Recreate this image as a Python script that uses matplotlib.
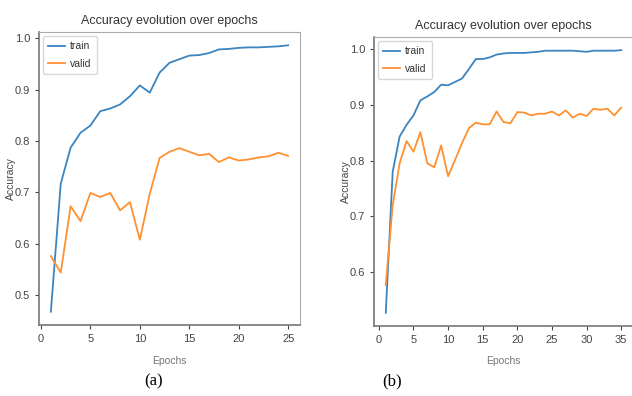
import matplotlib
matplotlib.use("Agg")
import matplotlib.pyplot as plt

# --- data ---
epochs_a = list(range(1, 26))
train_a = [0.468, 0.717, 0.787, 0.816, 0.830, 0.858, 0.863, 0.871, 0.887, 0.908,
           0.894, 0.933, 0.952, 0.959, 0.966, 0.967, 0.971, 0.978, 0.979, 0.981,
           0.982, 0.982, 0.983, 0.984, 0.986]
valid_a = [0.576, 0.544, 0.673, 0.644, 0.699, 0.691, 0.699, 0.665, 0.681, 0.608,
           0.697, 0.767, 0.779, 0.786, 0.779, 0.772, 0.775, 0.759, 0.768, 0.762,
           0.764, 0.768, 0.770, 0.777, 0.771]

epochs_b = list(range(1, 36))
train_b = [0.527, 0.780, 0.843, 0.864, 0.881, 0.908, 0.915, 0.923, 0.936, 0.935,
           0.941, 0.947, 0.964, 0.982, 0.982, 0.985, 0.990, 0.992, 0.993, 0.993,
           0.993, 0.994, 0.995, 0.997, 0.997, 0.997, 0.997, 0.997, 0.996, 0.995,
           0.997, 0.997, 0.997, 0.997, 0.998]
valid_b = [0.577, 0.720, 0.795, 0.835, 0.816, 0.851, 0.795, 0.788, 0.827, 0.772,
           0.801, 0.831, 0.858, 0.868, 0.865, 0.865, 0.888, 0.869, 0.867, 0.887,
           0.886, 0.881, 0.884, 0.884, 0.888, 0.881, 0.890, 0.877, 0.884, 0.880,
           0.893, 0.891, 0.893, 0.881, 0.895]

title = "Accuracy evolution over epochs"
captions = ["(a)", "(b)"]

plt.rcParams["font.family"] = ["Liberation Sans", "DejaVu Sans"]

fig = plt.figure(figsize=(6.32, 3.96), dpi=100)
ax_a = fig.add_axes([39 / 632, 71 / 396, 261 / 632, 293 / 396])
ax_b = fig.add_axes([374 / 632, 70 / 396, 259 / 632, 289 / 396])

for ax, ep, tr, va in [(ax_a, epochs_a, train_a, valid_a), (ax_b, epochs_b, train_b, valid_b)]:
    ax.plot(ep, tr, color="#3a84c0", lw=1.3, label="train")
    ax.plot(ep, va, color="#ff9030", lw=1.3, label="valid")
    ax.set_title(title, fontsize=9, color="#333333", pad=6)
    ax.set_xlabel("Epochs", fontsize=7.5, color="#777777")
    ax.set_ylabel("Accuracy", fontsize=7.5, color="#444444")
    ax.tick_params(labelsize=8, colors="#444444", length=3, width=0.8)
    for s in ["left", "bottom"]:
        ax.spines[s].set_color("#777777")
        ax.spines[s].set_linewidth(1.2)
    for s in ["top", "right"]:
        ax.spines[s].set_color("#aaaaaa")
    leg = ax.legend(loc="upper left", fontsize=7.5, handlelength=1.6, handletextpad=0.5,
                    borderpad=0.5, labelspacing=0.7, borderaxespad=0.4)
    for t in leg.get_texts():
        t.set_color("#333333")

ax_a.set_yticks([0.5, 0.6, 0.7, 0.8, 0.9, 1.0])
ax_a.set_xticks([0, 5, 10, 15, 20, 25])
ax_b.set_yticks([0.6, 0.7, 0.8, 0.9, 1.0])
ax_b.set_xticks([0, 5, 10, 15, 20, 25, 30, 35])

ax_a.yaxis.set_label_coords(-0.088, 0.5)
ax_b.yaxis.set_label_coords(-0.089, 0.5)
ax_a.xaxis.set_label_coords(0.5, -0.105)
ax_b.xaxis.set_label_coords(0.5, -0.105)

fig.text(154 / 632, 1 - 381 / 396, captions[0], fontsize=12, family="Liberation Serif",
         ha="center", va="center")
fig.text(392 / 632, 1 - 381 / 396, captions[1], fontsize=12, family="Liberation Serif",
         ha="center", va="center")

fig.savefig("out.png", dpi=100, facecolor="white")
